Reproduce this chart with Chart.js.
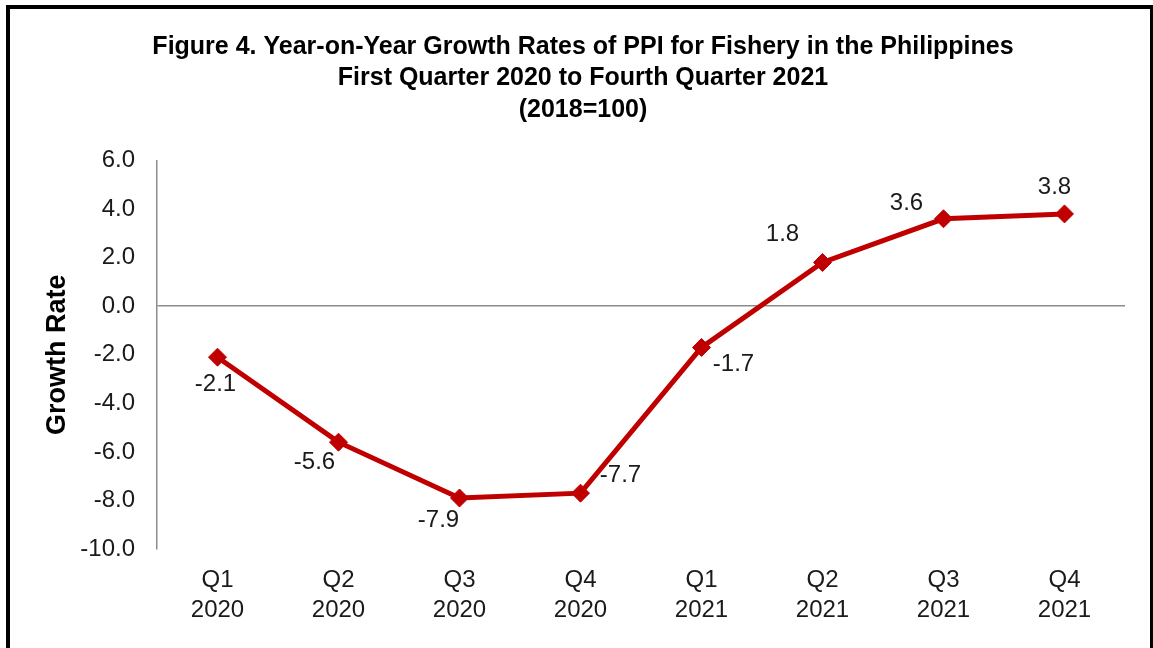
<!DOCTYPE html>
<html>
<head>
<meta charset="utf-8">
<script src="https://cdn.jsdelivr.net/npm/chart.js@4.4.1/dist/chart.umd.min.js"></script>
<style>
  html, body { margin: 0; padding: 0; background: #fff; }
  #marco {
    position: absolute; left: 6px; top: 5px;
    width: 1148px; height: 700px;
    border: 4px solid #000; box-sizing: border-box;
  }
  #lienzo { position: absolute; left: 0; top: 0; width: 1153px; height: 648px; }
</style>
</head>
<body>
<div id="marco"></div>
<div id="lienzo"><canvas id="grafico-ppi" width="1153" height="648"></canvas></div>
<script>
// Datos de la figura
const trimestres = [['Q1', '2020'], ['Q2', '2020'], ['Q3', '2020'], ['Q4', '2020'],
                    ['Q1', '2021'], ['Q2', '2021'], ['Q3', '2021'], ['Q4', '2021']];
const tasas = [-2.1, -5.6, -7.9, -7.7, -1.7, 1.8, 3.6, 3.8];
const ejeY = { min: -10, max: 6, paso: 2 };

// Desplazamiento de cada etiqueta respecto a su punto (px)
const desplazamientos = [[-2, 27], [-24, 20], [-21, 22], [40, -18],
                         [32, 17], [-40, -28], [-37, -15], [-10, -27]];

const fuente = "'Liberation Sans', Arial, sans-serif";

// Plugin sencillo para escribir los valores junto a cada marcador
const etiquetasValores = {
    id: 'etiquetasValores',
    afterDatasetsDraw(chart) {
        const ctx = chart.ctx;
        const meta = chart.getDatasetMeta(0);
        ctx.save();
        ctx.font = '24px ' + fuente;
        ctx.fillStyle = '#1a1a1a';
        ctx.textAlign = 'center';
        ctx.textBaseline = 'middle';
        meta.data.forEach((p, i) => {
            const d = desplazamientos[i];
            ctx.fillText(tasas[i].toFixed(1), p.x + d[0], p.y + d[1]);
        });
        ctx.restore();
    }
};

const ctx = document.getElementById('grafico-ppi').getContext('2d');

new Chart(ctx, {
    type: 'line',
    data: {
        labels: trimestres,
        datasets: [{
            data: tasas,
            borderColor: '#C00000',
            backgroundColor: '#C00000',
            borderWidth: 5,
            pointStyle: 'rectRot',
            pointRadius: 9,
            pointBorderWidth: 1,
            tension: 0
        }]
    },
    options: {
        responsive: false,
        animation: false,
        layout: { padding: { top: 31, right: 28, bottom: 0, left: 41 } },
        plugins: {
            legend: { display: false },
            tooltip: { enabled: false },
            title: {
                display: true,
                text: ['Figure 4. Year-on-Year Growth Rates of PPI for Fishery in the Philippines',
                       'First Quarter 2020 to Fourth Quarter 2021',
                       '(2018=100)'],
                color: '#000',
                font: { family: fuente, size: 25, weight: 'bold', lineHeight: 1.26 },
                padding: { top: 0, bottom: 35 }
            }
        },
        scales: {
            x: {
                offset: true,
                grid: { display: false },
                border: { display: false },
                ticks: {
                    color: '#1a1a1a',
                    font: { family: fuente, size: 24, lineHeight: 1.25 },
                    padding: 8,
                    maxRotation: 0
                },
                afterFit: s => { s.height = 99; }
            },
            y: {
                min: ejeY.min,
                max: ejeY.max,
                ticks: {
                    stepSize: ejeY.paso,
                    color: '#1a1a1a',
                    font: { family: fuente, size: 24 },
                    padding: 22,
                    callback: v => v.toFixed(1)
                },
                grid: {
                    drawTicks: false,
                    color: c => c.tick && c.tick.value === 0 ? '#8c8c8c' : 'rgba(0,0,0,0)',
                    lineWidth: 1.5
                },
                border: { display: true, color: '#8c8c8c', width: 1.5 },
                title: {
                    display: true,
                    text: 'Growth Rate',
                    color: '#000',
                    font: { family: fuente, size: 27, weight: 'bold' },
                    padding: 0
                },
                afterFit: s => { s.width = 116; }
            }
        }
    },
    plugins: [etiquetasValores]
});
</script>
</body>
</html>
